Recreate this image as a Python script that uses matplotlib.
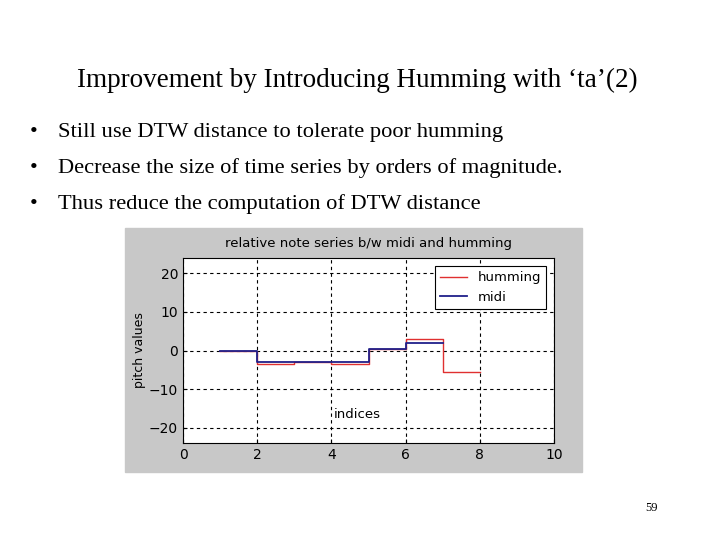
import matplotlib.pyplot as plt
from matplotlib.patches import Rectangle

hum_x = [1, 2, 3, 4, 5, 6, 7, 8]
hum_y = [0, -3.5, -3, -3.5, 0.5, 3, -5.7, -5.7]
midi_x = [1, 2, 3, 4, 5, 6, 7]
midi_y = [0, -3, -3, -3, 0.3, 2, 2]
bullets = ["Still use DTW distance to tolerate poor humming",
           "Decrease the size of time series by orders of magnitude.",
           "Thus reduce the computation of DTW distance"]

fig = plt.figure(figsize=(7.2, 5.4), dpi=100)
W, H = 720.0, 540.0
serif = "Liberation Serif"

fig.text(357 / W, 1 - 80 / H, "Improvement by Introducing Humming with \u2018ta\u2019(2)",
         ha="center", va="center", fontsize=19.5, family=serif)
for i, b in enumerate(bullets):
    y = 1 - (132 + i * 36) / H
    fig.text(30 / W, y, "\u2022", ha="left", va="center", fontsize=16, family=serif)
    fig.text(58 / W, y, b, ha="left", va="center", fontsize=16.2, family=serif)
fig.text(652 / W, 1 - 508 / H, "59", ha="center", va="center", fontsize=9, family=serif)

# gray matlab figure panel
fig.patches.append(Rectangle((125 / W, 1 - 472 / H), 457 / W, 244 / H,
                             transform=fig.transFigure, color="#c8c8c8", zorder=-1))

ax = fig.add_axes([183 / W, 1 - 443 / H, 371 / W, 185 / H])
ax.step(hum_x, hum_y, where="post", color="#e03030", lw=1, label="humming")
ax.step(midi_x, midi_y, where="post", color="#20208a", lw=1.3, label="midi")
ax.set_xlim(0, 10)
ax.set_ylim(-24, 24)
ax.set_xticks([0, 2, 4, 6, 8, 10])
ax.set_yticks([-20, -10, 0, 10, 20])
ax.grid(True, color="black", linestyle=(0, (3, 3)), lw=0.8)
ax.tick_params(labelsize=10, direction="in", length=3)
for s in ax.spines.values():
    s.set_linewidth(0.8)
ax.set_title("relative note series b/w midi and humming", fontsize=9.5, pad=8)
ax.set_ylabel("pitch values", fontsize=9, labelpad=2)
ax.text(4.05, -16.5, "indices", fontsize=9.5, va="center")
leg = ax.legend(loc="upper right", fontsize=9.5, fancybox=False, framealpha=1,
                edgecolor="black", borderaxespad=0.6, handlelength=2)
leg.get_frame().set_linewidth(0.8)

fig.savefig("out.png", dpi=100)
